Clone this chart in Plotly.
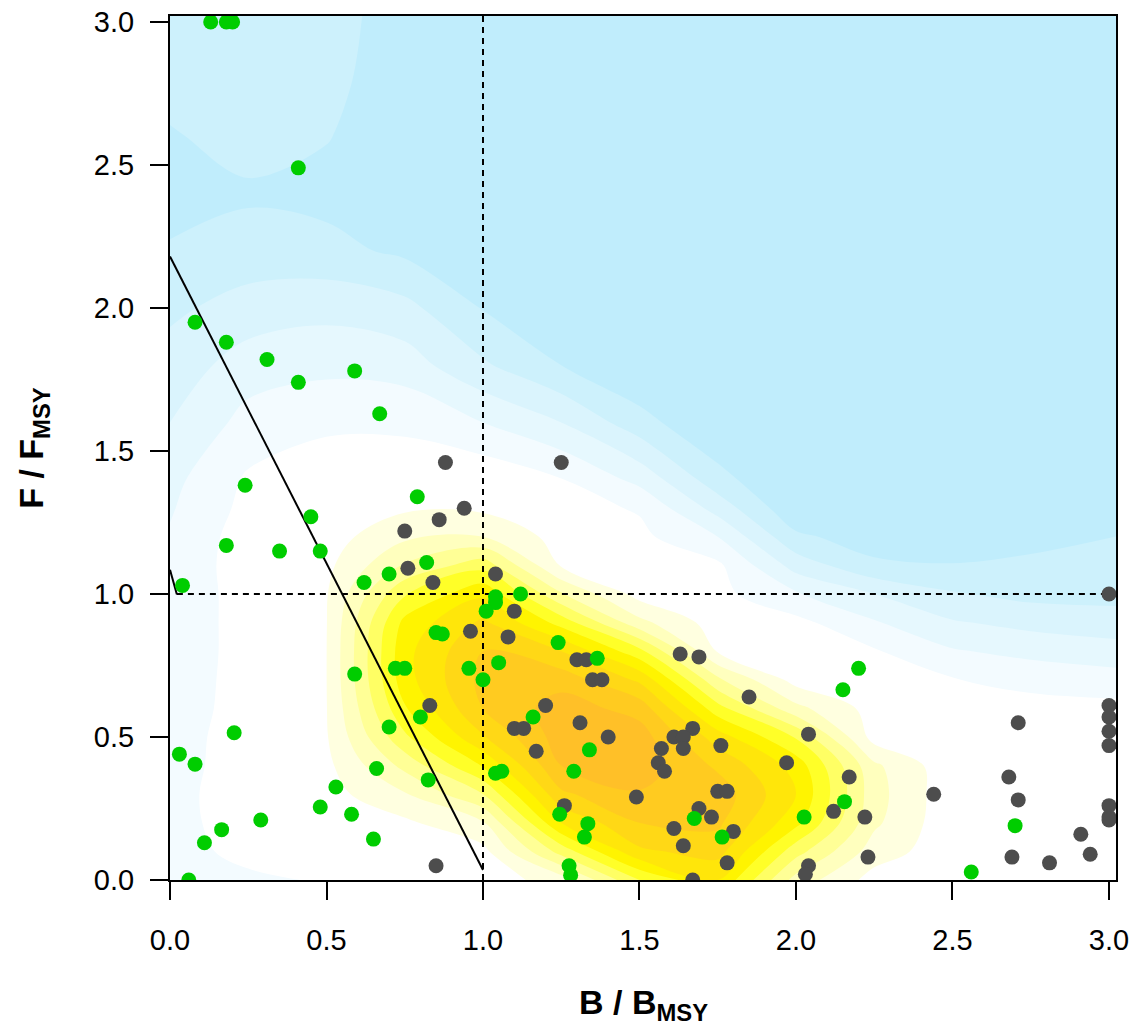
import plotly.graph_objects as go

# ---- stock status: assessed stocks (grey) ----
grey_x = [0.88, 0.94, 0.86, 0.75, 0.76, 0.84, 1.25, 1.04, 1.10, 0.96, 1.08, 1.30, 1.33,
          1.63, 1.69, 1.35, 1.38, 1.85, 1.20, 0.83, 1.10, 1.13, 1.31, 1.67, 1.61, 1.64,
          1.40, 1.57, 1.64, 1.76, 1.17, 1.56, 1.58, 1.97, 1.75, 1.78, 1.49, 1.26, 1.69,
          1.73, 1.61, 1.80, 1.64, 1.78, 1.67, 0.85, 3.00, 3.00, 3.00, 3.00, 3.00, 2.71,
          2.04, 2.17, 2.68, 2.44, 2.71, 2.12, 2.22, 3.00, 3.00, 3.00, 2.91, 2.94, 2.23,
          2.69, 2.81, 2.04, 2.03]
grey_y = [1.46, 1.30, 1.26, 1.22, 1.09, 1.04, 1.46, 1.07, 0.94, 0.87, 0.85, 0.77, 0.77,
          0.79, 0.78, 0.70, 0.70, 0.64, 0.61, 0.61, 0.53, 0.53, 0.55, 0.53, 0.50, 0.50,
          0.50, 0.46, 0.46, 0.47, 0.45, 0.41, 0.38, 0.41, 0.31, 0.31, 0.29, 0.26, 0.25,
          0.22, 0.18, 0.17, 0.12, 0.06, 0.00, 0.05, 1.00, 0.61, 0.57, 0.52, 0.47, 0.55,
          0.51, 0.36, 0.36, 0.30, 0.28, 0.24, 0.22, 0.26, 0.22, 0.21, 0.16, 0.09, 0.08,
          0.08, 0.06, 0.05, 0.02]

# ---- stock status: catch-only stocks (green) ----
green_x = [0.13, 0.18, 0.20, 0.41, 0.08, 0.18, 0.31, 0.41, 0.59, 0.67, 0.24, 0.79, 0.45,
           0.18, 0.35, 0.48, 0.82, 0.70, 0.62, 0.04, 1.04, 1.04, 1.12, 1.01, 0.85, 0.87,
           1.24, 1.365, 1.05, 0.72, 0.75, 0.955, 0.59, 1.00, 2.20, 2.15, 0.80, 1.16, 0.70,
           0.205, 0.03, 0.08, 0.66, 0.825, 1.34, 1.04, 1.06, 1.29, 0.53, 0.48, 0.58, 0.29,
           0.165, 0.11, 0.65, 1.245, 1.675, 1.335, 1.764, 1.324, 2.026, 2.155, 2.70, 2.56,
           1.275, 1.28, 0.06]
green_y = [3.00, 3.00, 3.00, 2.49, 1.95, 1.88, 1.82, 1.74, 1.78, 1.63, 1.38, 1.34, 1.27,
           1.17, 1.15, 1.15, 1.11, 1.07, 1.04, 1.03, 0.99, 0.97, 1.00, 0.94, 0.865, 0.86,
           0.83, 0.775, 0.76, 0.74, 0.74, 0.74, 0.72, 0.70, 0.74, 0.665, 0.57, 0.57, 0.535,
           0.515, 0.44, 0.405, 0.39, 0.35, 0.455, 0.373, 0.38, 0.38, 0.325, 0.255, 0.23, 0.21,
           0.176, 0.13, 0.143, 0.23, 0.215, 0.197, 0.15, 0.15, 0.22, 0.274, 0.19, 0.028,
           0.05, 0.017, 0.00]

# ---- reference lines ----
ref_b = [1.0]             # B/BMSY = 1
ref_f = [1.0]             # F/FMSY = 1
hcr_x = [0.0, 1.0]        # long sloped reference line
hcr_y = [2.18, 0.035]
hcr2_x = [0.0, 0.022]     # short sloped segment at the left edge
hcr2_y = [1.085, 0.998]

# ---- density surface, level values on a grid (rows follow dens_y) ----
dens_x = [0.0, 0.25, 0.5, 0.75, 1.0, 1.25, 1.5, 1.75, 2.0, 2.25, 2.5, 2.75, 3.05]
dens_y = [0.0, 0.1, 0.2, 0.3, 0.4, 0.5, 0.6, 0.7, 0.8, 0.9, 1.0, 1.1, 1.2, 1.3, 1.4,
          1.6, 1.8, 2.0, 2.2, 2.4, 2.6, 2.8, 3.05]
dens_z = [
    [-0.5, -0.2, 0.1, 0.4, 0.4, 1.5, 5.0, 7.0, 2.6, 0.6, 0.4, 0.5, 0.5],
    [-0.4, 0.3, 0.35, 0.6, 0.7, 4.4, 7.8, 8.4, 4.4, 1.5, 0.4, 0.5, 0.5],
    [-0.35, 0.5, 0.5, 0.8, 1.9, 7.0, 9.0, 9.2, 6.3, 2.2, 0.3, 0.5, 0.5],
    [-0.3, 0.5, 0.6, 1.9, 4.0, 8.8, 9.9, 9.6, 7.0, 2.4, 0.3, 0.5, 0.5],
    [-0.4, 0.5, 0.75, 3.3, 6.1, 10.0, 10.6, 8.8, 6.6, 2.2, 0.3, 0.5, 0.5],
    [-0.5, 0.55, 0.92, 4.8, 7.9, 10.5, 10.5, 7.5, 4.9, 0.6, 0.5, 0.45, 0.45],
    [-0.7, 0.55, 0.97, 5.9, 9.0, 10.5, 9.6, 5.4, 2.3, 0.6, 0.4, 0.35, 0.3],
    [-0.8, 0.55, 0.99, 6.6, 9.3, 9.6, 7.8, 3.2, 0.6, 0.5, 0.05, -0.3, -0.6],
    [-0.9, 0.55, 0.99, 6.7, 9.0, 8.0, 5.3, 0.9, 0.5, 0.1, -0.9, -1.3, -1.6],
    [-0.9, 0.55, 0.97, 6.3, 8.2, 5.6, 2.3, 0.5, 0.3, -0.9, -1.9, -2.3, -2.6],
    [-0.9, 0.55, 0.93, 4.9, 6.8, 3.1, 0.6, 0.3, -0.9, -2.0, -2.9, -3.3, -3.3],
    [-0.8, 0.55, 0.75, 3.1, 4.6, 0.9, 0.4, 0.2, -2.4, -3.8, -3.95, -3.8, -3.6],
    [-0.9, 0.5, 0.55, 1.8, 2.0, 0.6, 0.25, -1.0, -3.8, -4.5, -4.6, -4.3, -3.95],
    [-1.1, 0.3, 0.4, 0.85, 0.8, 0.4, -0.1, -2.4, -4.8, -5.0, -5.0, -5.0, -4.6],
    [-1.3, 0.15, 0.3, 0.45, 0.75, 0.05, -1.3, -3.6, -5.2, -5.2, -5.2, -5.2, -5.0],
    [-2.0, -0.65, -0.1, -0.15, -1.0, -2.0, -3.6, -5.0, -5.3, -5.3, -5.3, -5.3, -5.3],
    [-2.6, -1.5, -1.3, -1.5, -2.85, -4.0, -5.0, -5.3, -5.3, -5.3, -5.3, -5.3, -5.3],
    [-3.2, -2.6, -2.3, -2.7, -4.05, -5.0, -5.3, -5.4, -5.4, -5.4, -5.4, -5.4, -5.4],
    [-3.9, -3.55, -3.7, -4.2, -4.8, -5.2, -5.4, -5.4, -5.4, -5.4, -5.4, -5.4, -5.4],
    [-4.4, -4.15, -4.3, -4.7, -5.0, -5.4, -5.4, -5.4, -5.4, -5.4, -5.4, -5.4, -5.4],
    [-4.1, -3.6, -3.95, -4.6, -5.0, -5.4, -5.4, -5.4, -5.4, -5.4, -5.4, -5.4, -5.4],
    [-3.6, -3.4, -3.75, -4.5, -5.0, -5.4, -5.4, -5.4, -5.4, -5.4, -5.4, -5.4, -5.4],
    [-3.5, -3.3, -3.65, -4.4, -5.0, -5.4, -5.4, -5.4, -5.4, -5.4, -5.4, -5.4, -5.4],
]

# band colours, lowest level band first (blue -> white -> yellow -> orange)
band_colors = [
    "#C0EDFC", "#CDF1FC", "#DAF4FD", "#E6F8FE", "#F3FBFF", "#FFFFFF",
    "#FFFFE0", "#FFFFBE", "#FFFF96", "#FFFF64", "#FFFF28",
    "#FFF400", "#FFE60A", "#FFD816", "#FFCB20", "#FFC028",
]

tick_vals = [0.0, 0.5, 1.0, 1.5, 2.0, 2.5, 3.0]
tick_text = ["0.0", "0.5", "1.0", "1.5", "2.0", "2.5", "3.0"]

FONT = "Liberation Sans, Arial, Helvetica, sans-serif"

n_bands = len(band_colors)
colorscale = [[i / (n_bands - 1), c] for i, c in enumerate(band_colors)]

fig = go.Figure()

fig.add_trace(go.Contour(
    x=dens_x, y=dens_y, z=dens_z,
    colorscale=colorscale,
    contours=dict(start=-4, end=10, size=1, coloring="fill", showlines=False),
    line=dict(width=0, smoothing=1.0),
    showscale=False,
    hoverinfo="skip",
))

# reference lines
fig.add_trace(go.Scatter(x=[ref_b[0], ref_b[0]], y=[0, 3.05], mode="lines",
                         line=dict(color="black", width=2, dash="6px,5px"),
                         hoverinfo="skip", showlegend=False))
fig.add_trace(go.Scatter(x=[hcr2_x[1], 3.05], y=[ref_f[0], ref_f[0]], mode="lines",
                         line=dict(color="black", width=2, dash="6px,5px"),
                         hoverinfo="skip", showlegend=False))
fig.add_trace(go.Scatter(x=hcr_x, y=hcr_y, mode="lines",
                         line=dict(color="black", width=2),
                         hoverinfo="skip", showlegend=False))
fig.add_trace(go.Scatter(x=hcr2_x, y=hcr2_y, mode="lines",
                         line=dict(color="black", width=2),
                         hoverinfo="skip", showlegend=False))

# points
fig.add_trace(go.Scatter(x=grey_x, y=grey_y, mode="markers",
                         marker=dict(color="#4D4D4D", size=15, line=dict(width=0)),
                         showlegend=False))
fig.add_trace(go.Scatter(x=green_x, y=green_y, mode="markers",
                         marker=dict(color="#00CD00", size=15, line=dict(width=0)),
                         showlegend=False))

axis_common = dict(
    showline=True, linecolor="black", linewidth=2, mirror=True,
    ticks="outside", ticklen=18, tickwidth=2, tickcolor="black",
    showgrid=False, zeroline=False, automargin=False,
    tickvals=tick_vals, ticktext=tick_text,
    tickfont=dict(family=FONT, size=29, color="black"),
)

fig.update_layout(
    width=1131, height=1025,
    margin=dict(l=170, r=15, t=16, b=145),
    paper_bgcolor="white", plot_bgcolor="white",
    showlegend=False,
    xaxis=dict(range=[0, 3.0224], ticklabelstandoff=15, **axis_common),
    yaxis=dict(range=[0, 3.021], ticklabelstandoff=10, **axis_common),
    annotations=[
        dict(text="<b>B / B<sub>MSY</sub></b>", xref="paper", yref="paper",
             x=0.5, y=-0.117, xanchor="center", yanchor="top", showarrow=False,
             font=dict(family=FONT, size=34, color="black")),
        dict(text="<b>F / F<sub>MSY</sub></b>", xref="paper", yref="paper",
             x=-0.145, y=0.5, xanchor="center", yanchor="middle", showarrow=False,
             textangle=-90, font=dict(family=FONT, size=34, color="black")),
    ],
)

fig.write_html("out.html")
